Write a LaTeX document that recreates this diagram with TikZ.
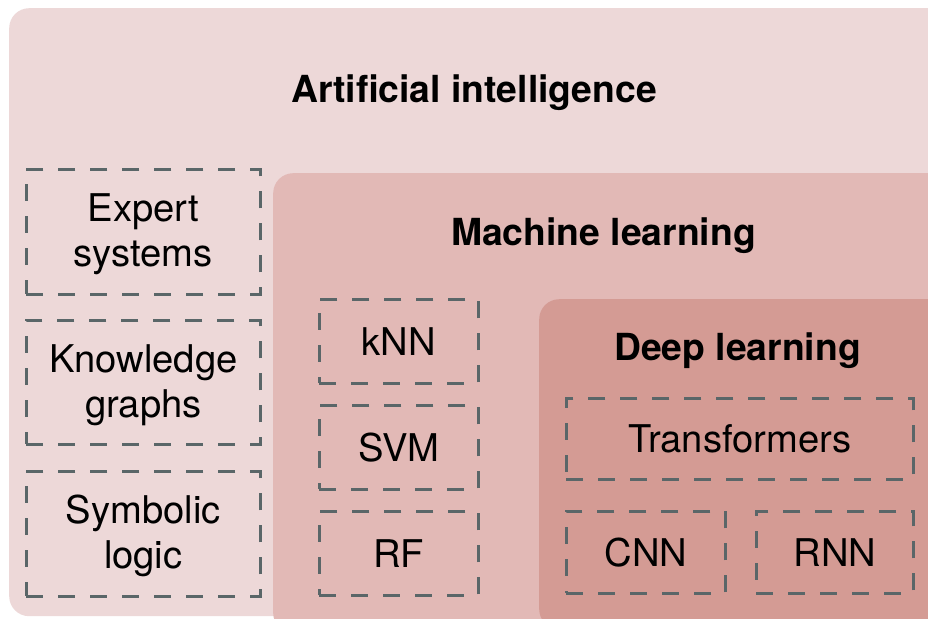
\documentclass[tikz,border=0pt]{standalone}
\usepackage{fontspec}
\setmainfont{TeX Gyre Heros}
\definecolor{aicol}{RGB}{237,216,216}
\definecolor{mlcol}{RGB}{226,185,182}
\definecolor{dlcol}{RGB}{212,155,148}
\definecolor{dashcol}{RGB}{90,102,104}
\newcommand{\twolines}[2]{\raisebox{-3.5pt}[\height][\depth]{\begin{tabular}{@{}c@{}}#1\\#2\end{tabular}}}
\tikzset{
  area/.style={rectangle, rounded corners=20pt, anchor=north west, inner sep=0pt},
  title/.style={font=\fontsize{37.3}{44}\selectfont\bfseries, inner sep=0pt, anchor=center},
  dbox/.style={rectangle, draw=dashcol, line width=2.6pt, dash pattern=on 17pt off 15pt,
    anchor=north west, inner sep=0pt, align=center,
    font=\fontsize{38.2}{45}\selectfont},
}
\begin{document}
\begin{tikzpicture}[x=1pt,y=-1pt]
\useasboundingbox (0,0) rectangle (928,618);
\clip (0,0) rectangle (928,618);
\fill[white] (0,0) rectangle (928,618);
% nested areas
\node[area, fill=aicol, minimum width=960pt, minimum height=608pt] (ai) at (9,8) {};
\node[area, fill=mlcol, minimum width=700pt, minimum height=460pt] (ml) at (273,173) {};
\node[area, fill=dlcol, minimum width=420pt, minimum height=330pt] (dl) at (539,299) {};
% titles
\node[title] (tai) at (474,93) {Artificial intelligence};
\node[title] (tml) at (603.5,236) {Machine learning};
\node[title] (tdl) at (737.5,351) {Deep learning};
% AI boxes
\node[dbox, minimum width=234pt, minimum height=125pt] (expert) at (25,168) {\twolines{Expert}{systems}};
\node[dbox, minimum width=234pt, minimum height=124pt] (kg) at (25,319) {\twolines{Knowledge}{graphs}};
\node[dbox, minimum width=234pt, minimum height=125pt] (sym) at (25,470) {\twolines{Symbolic}{logic}};
% ML boxes
\node[dbox, minimum width=159pt, minimum height=84pt] (knn) at (318,298) {kNN};
\node[dbox, minimum width=159pt, minimum height=84pt] (svm) at (318,404) {SVM};
\node[dbox, minimum width=159pt, minimum height=84pt] (rf) at (318,510) {RF};
% DL boxes
\node[dbox, minimum width=347pt, minimum height=81pt] (tr) at (565,397) {Transformers};
\node[dbox, minimum width=159pt, minimum height=82pt] (cnn) at (565,510) {CNN};
\node[dbox, minimum width=157pt, minimum height=82pt] (rnn) at (755,510) {RNN};
\end{tikzpicture}
\end{document}
